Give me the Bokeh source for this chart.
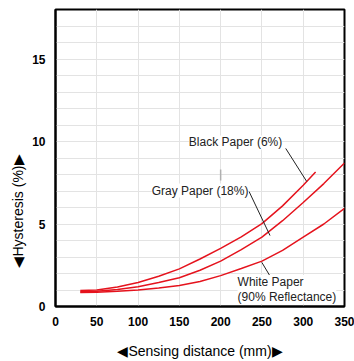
from bokeh.plotting import figure
from bokeh.models import Label, FixedTicker, Range1d, Title
from bokeh.embed import file_html
from bokeh.resources import INLINE

# ---- data ----
dist_black = [30, 50, 75, 100, 125, 150, 175, 200, 225, 250, 275, 300, 315]
hyst_black = [0.97, 1.0, 1.18, 1.45, 1.83, 2.28, 2.88, 3.52, 4.22, 5.02, 6.1, 7.35, 8.15]

dist_gw = [30, 50, 75, 100, 125, 150, 175, 200, 225, 250, 275, 300, 325, 350]
hyst_gray = [0.9, 0.92, 1.03, 1.2, 1.45, 1.74, 2.2, 2.75, 3.45, 4.2, 5.2, 6.3, 7.45, 8.7]
hyst_white = [0.85, 0.87, 0.92, 1.0, 1.12, 1.27, 1.52, 1.87, 2.3, 2.75, 3.4, 4.2, 5.0, 5.95]

x_ticks = [0, 50, 100, 150, 200, 250, 300, 350]
y_ticks = [0, 5, 10, 15]
y_grid = list(range(1, 18))

labels = ["Black Paper (6%)", "Gray Paper (18%)", "White Paper\n(90% Reflectance)"]
label_x = [161.5, 116.5, 220.5]
label_y = [9.94, 7.03, 1.04]
leader_x0 = [278.8, 234.4, 249.8]
leader_y0 = [9.58, 6.97, 2.68]
leader_x1 = [304.2, 259.8, 260.6]
leader_y1 = [7.58, 4.3, 1.78]

RED = "#e5131d"
FONT = "Liberation Sans"

p = figure(width=354, height=361, output_backend="svg", toolbar_location=None,
           x_range=Range1d(0, 350), y_range=Range1d(0, 18),
           min_border_left=55, min_border_right=10, min_border_top=9, min_border_bottom=55)

p.outline_line_color = "black"
p.outline_line_width = 2
p.background_fill_color = "white"

p.xaxis.ticker = FixedTicker(ticks=x_ticks)
p.yaxis.ticker = FixedTicker(ticks=y_ticks)
p.xgrid.ticker = FixedTicker(ticks=x_ticks)
p.ygrid.ticker = FixedTicker(ticks=y_grid)
for g in (p.xgrid, p.ygrid):
    g.grid_line_color = "#e3e3e3"
    g.grid_line_width = 1

for ax in (p.xaxis, p.yaxis):
    ax.axis_line_color = "black"
    ax.axis_line_width = 2
    ax.major_tick_line_color = None
    ax.minor_tick_line_color = None
    ax.major_tick_out = 0
    ax.major_tick_in = 0
    ax.major_label_text_font = FONT
    ax.major_label_text_font_style = "bold"
    ax.major_label_text_font_size = "12px"
    ax.major_label_text_color = "black"
    ax.major_label_standoff = 10

p.xaxis.axis_label = "◀Sensing distance (mm)▶"
p.xaxis.axis_label_text_font = FONT
p.xaxis.axis_label_text_font_style = "normal"
p.xaxis.axis_label_text_font_size = "14px"
p.xaxis.axis_label_text_color = "black"
p.xaxis.axis_label_standoff = 14

# y axis title as a left-side Title so it can be offset like the reference
p.add_layout(Title(text="◀Hysteresis (%)▶", align="left", offset=39, standoff=8,
                   text_font=FONT, text_font_size="14px", text_font_style="normal",
                   text_color="black"), "left")

# curves
p.line(dist_black, hyst_black, line_color=RED, line_width=1.5)
p.line(dist_gw, hyst_gray, line_color=RED, line_width=1.5)
p.line(dist_gw, hyst_white, line_color=RED, line_width=1.5)

# leader lines
p.segment(leader_x0, leader_y0, leader_x1, leader_y1, line_color="#222222", line_width=1)

# small gray mark
p.segment([200], [7.64], [200], [8.3], line_color="#b0b0b0", line_width=1.5)

for t, lx, ly in zip(labels, label_x, label_y):
    p.add_layout(Label(x=lx, y=ly, text=t, text_font=FONT, text_font_size="12px",
                       text_color="#222222", text_baseline="middle", text_align="left",
                       background_fill_color="white", text_line_height=1.05))

open("out.html", "w").write(file_html(p, INLINE))
